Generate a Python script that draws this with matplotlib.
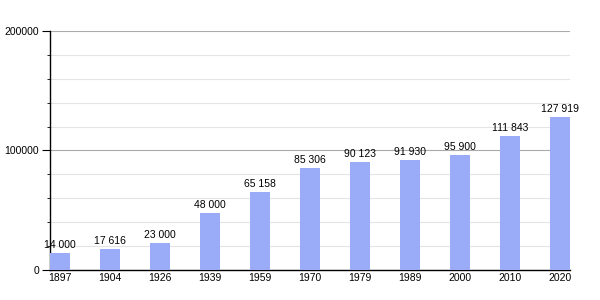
import matplotlib
matplotlib.use("Agg")
import matplotlib.pyplot as plt
import numpy as np
from matplotlib.ticker import MultipleLocator

years = ["1897", "1904", "1926", "1939", "1959", "1970", "1979", "1989", "2000", "2010", "2020"]
population = [14000, 17616, 23000, 48000, 65158, 85306, 90123, 91930, 95900, 111843, 127919]

plt.rcParams["font.family"] = ["Liberation Sans", "DejaVu Sans"]

fig = plt.figure(figsize=(6, 3), dpi=100)
ax = fig.add_axes([50 / 600, 0.1, 520 / 600, 0.797])

x = np.arange(len(years))
ax.bar(x, population, width=0.4, color="#9aabf7", zorder=3)

for xi, v in zip(x, population):
    label = f"{v:,}".replace(",", " ")
    ax.text(xi, v + 2500, label, ha="center", va="bottom", fontsize=7.5, zorder=4)

ax.set_xlim(-0.2, len(years) - 0.8)
ax.set_ylim(0, 200000)
ax.set_xticks(x)
ax.set_xticklabels(years, fontsize=7.5)
ax.yaxis.set_major_locator(MultipleLocator(100000))
ax.yaxis.set_minor_locator(MultipleLocator(20000))
ax.tick_params(axis="y", which="major", length=6, labelsize=7.5, pad=2)
ax.tick_params(axis="y", which="minor", length=2.5)
ax.tick_params(axis="x", length=0, pad=2)

ax.grid(axis="y", which="major", color="#aaaaaa", lw=0.8, zorder=1)
ax.grid(axis="y", which="minor", color="#e4e4e4", lw=0.8, zorder=1)

for side in ("top", "right"):
    ax.spines[side].set_visible(False)
ax.spines["left"].set_linewidth(1)
ax.spines["bottom"].set_linewidth(1)

fig.savefig("out.png", dpi=100)
